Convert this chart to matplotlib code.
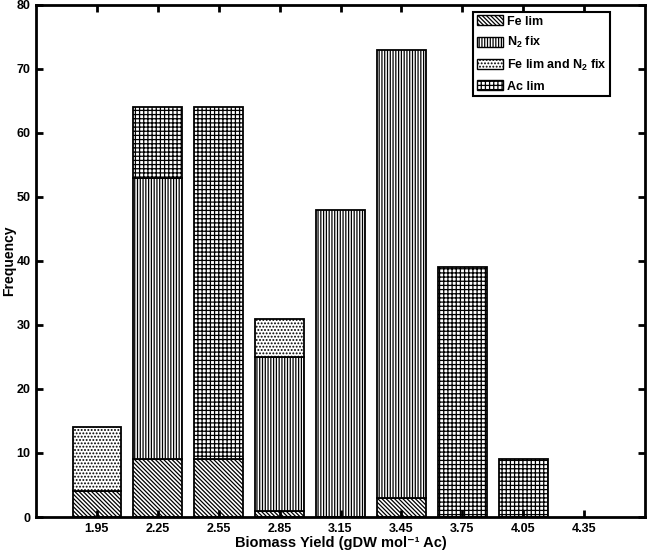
import numpy as np
import matplotlib
matplotlib.use("Agg")
import matplotlib.pyplot as plt
from matplotlib.patches import Patch

plt.rcParams['font.family'] = ['Liberation Sans', 'DejaVu Sans']
plt.rcParams['font.weight'] = 'bold'
plt.rcParams['axes.labelweight'] = 'bold'
plt.rcParams['mathtext.fontset'] = 'custom'
plt.rcParams['mathtext.rm'] = 'Liberation Sans:bold'
plt.rcParams['mathtext.bf'] = 'Liberation Sans:bold'
plt.rcParams['mathtext.default'] = 'rm'
plt.rcParams['hatch.linewidth'] = 0.9

# bin centres of biomass yield
yields = [1.95, 2.25, 2.55, 2.85, 3.15, 3.45, 3.75, 4.05, 4.35]
tick_labels = ["1.95", "2.25", "2.55", "2.85", "3.15", "3.45", "3.75", "4.05", "4.35"]

# counts per limitation type (stacked in this order)
fe_lim = [4, 9, 9, 1, 0, 3, 0, 0, 0]
n2_fix = [0, 44, 0, 24, 48, 70, 0, 0, 0]
fe_n2 = [10, 0, 0, 6, 0, 0, 0, 0, 0]
ac_lim = [0, 11, 55, 0, 0, 0, 39, 9, 0]

labels = ["Fe lim", "N$_2$ fix", "Fe lim and N$_2$ fix", "Ac lim"]
hatches = ["\\" * 8, "|" * 6, "." * 5, "+" * 4]

fig = plt.figure(figsize=(6.5, 5.51), dpi=100)
ax = fig.add_axes([0.0554, 0.0617, 0.9369, 0.9293])

series = [fe_lim, n2_fix, fe_n2, ac_lim]
bottom = np.zeros(len(yields))
for vals, h in zip(series, hatches):
    vals = np.array(vals, dtype=float)
    mask = vals > 0
    ax.bar(np.array(yields)[mask], vals[mask], width=0.24, bottom=bottom[mask],
           color="white", edgecolor="black", hatch=h, linewidth=1.3)
    bottom += vals

ax.set_xlim(1.65, 4.65)
ax.set_ylim(0, 80)
ax.set_xticks(yields)
ax.set_xticklabels(tick_labels)
ax.set_yticks(range(0, 81, 10))
ax.tick_params(direction="in", width=2, length=5, labelsize=9,
               top=True, right=True)
ax.tick_params(axis="x", pad=4)
ax.tick_params(axis="y", pad=4)
for s in ax.spines.values():
    s.set_linewidth(2)

ax.set_xlabel("Biomass Yield (gDW mol\u207b\u00b9 Ac)", fontsize=10.5, labelpad=1)
ax.set_ylabel("Frequency", fontsize=10, labelpad=0.5)

handles = [Patch(facecolor="white", edgecolor="black", hatch=h, linewidth=1.0)
           for h in hatches]
leg = ax.legend(handles, labels, loc="upper right", bbox_to_anchor=(0.943, 0.987),
                fontsize=9, fancybox=False, framealpha=1, edgecolor="black",
                handlelength=2.1, handleheight=0.85, handletextpad=0.3,
                labelspacing=0.6, borderpad=0.3, borderaxespad=0)
leg.get_frame().set_linewidth(1.5)

fig.savefig("out.png", dpi=100)
